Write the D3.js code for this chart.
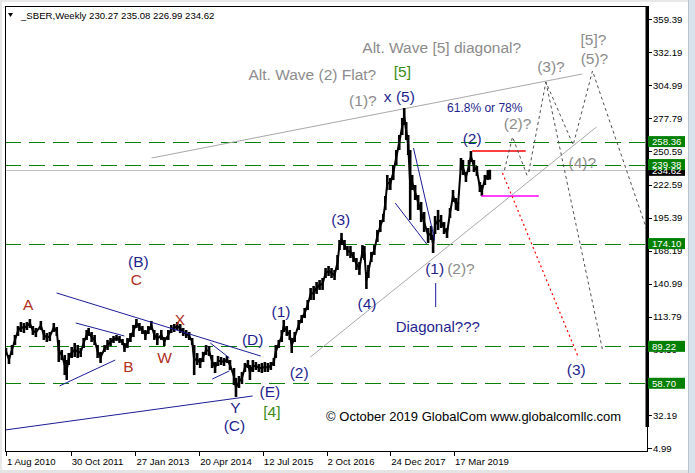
<!DOCTYPE html>
<html><head><meta charset="utf-8">
<script src="https://cdn.jsdelivr.net/npm/d3@7"></script>
<style>html,body{margin:0;padding:0;background:#fff;}svg{display:block;}</style>
</head><body>
<svg id="chart" width="695" height="473"></svg>
<script>
// ---------------- DATA ----------------
const symbolTitle = "_SBER,Weekly";
const ohlcHeader = [230.27, 235.08, 226.99, 234.62];
const startDate = "2010-08-01";
// weeks since start date
const weeks = [0,3,6,9,12,15,18,21,24,27, 30,35,38,41,44,48,51,53,56,59, 61,63,66,69,72,75,78,81,83,86,
 89,92,95,99,102,105,108,111,114,117, 119,122,125,128,131,134,137,140,143,146, 149,152,156,159,163,166,169,172,175,178,
 181,184,187,189,192,195,198,201,204,207, 210,213,216,219,222,225,229,231,234,237, 240,243,245,248,251,254,257,260,263,266,
 269,271,274,277,279,282,285,287,290,294, 297,300,303,306,309,312,315,318,321,324, 327,330,333,335,337,340,343,346,349,352,
 355,358,360,362,364,367,370,373,376,379, 381,383,386,389,392,395,398,400,402,404, 406,408,411,414,417,420,424,427,429,431,
 434,437,440,443,446,449,452,454,457,459, 462,465,467,470,473,476,478,481,484,486];
const highs = [87.9,82.1,90.3,98.6,106.0,109.3,108.5,109.3,111.8,106.0, 104.4,110.2,102.7,100.2,101.1,108.5,105.2,94.5,86.2,82.1,
 77.9,83.7,88.7,92.0,90.3,87.9,96.1,102.7,104.4,101.1, 98.6,90.3,84.6,90.3,94.5,96.1,97.8,98.6,97.8,95.3,
 92.0,96.1,100.2,106.9,111.8,108.5,106.0,102.7,106.0,110.2, 102.7,100.2,102.7,96.9,102.7,106.9,107.7,109.3,107.7,104.4,
 102.7,101.1,96.1,90.3,83.7,79.6,84.6,90.3,89.5,82.1, 76.3,81.3,80.4,79.6,81.3,77.9,71.3,63.1,64.7,68.0,
 75.5,77.9,73.8,77.9,76.3,74.6,75.5,76.3,75.5,76.3, 79.6,90.3,94.5,102.7,111.0,106.0,102.7,96.1,101.1,111.0,
 115.1,120.9,127.5,137.4,139.1,142.4,144.0,145.7,153.9,155.6, 153.9,152.3,164.7,177.1,182.9,177.1,172.1,172.1,167.2,162.2,
 158.9,172.9,172.1,150.6,156.4,167.2,172.9,185.3,193.6,198.6, 213.4,230.8,228.3,239.0,251.4,263.8,277.9,286.1,274.5,263.8,
 251.4,230.8,222.5,214.2,208.5,200.2,187.0,188.6,181.2,196.9, 201.9,197.7,191.9,187.0,203.5,218.4,211.8,208.5,244.8,243.2,
 233.2,243.2,250.6,243.2,238.2,225.0,222.5,230.8,234.9,235.08];
const lows = [82.1,74.6,82.1,90.3,97.8,101.1,100.2,102.7,104.4,98.6, 96.9,102.7,94.5,92.8,93.6,101.1,97.8,76.3,77.9,65.5,
 61.4,73.8,79.6,80.4,79.6,80.4,87.9,94.5,97.8,92.8, 90.3,79.6,75.5,84.6,86.2,89.5,92.0,93.6,92.0,90.3,
 84.6,87.9,92.8,96.9,104.4,101.9,99.4,94.5,99.4,102.7, 94.5,90.3,94.5,89.5,94.5,100.2,101.1,102.7,100.2,97.8,
 96.1,94.5,90.3,65.5,73.8,71.3,76.3,82.1,81.3,71.3, 67.2,73.0,73.8,73.0,75.5,69.7,57.3,47.4,54.8,58.1,
 68.0,71.3,61.4,68.0,69.7,68.0,67.2,68.0,68.0,69.7, 73.0,79.6,87.9,92.8,101.1,97.8,94.5,83.7,92.8,102.7,
 108.5,112.6,119.2,127.5,127.5,132.5,135.8,135.8,145.7,147.3, 145.7,144.0,152.3,168.8,172.9,168.8,163.9,162.2,158.9,152.3,
 148.2,162.2,160.6,136.6,145.7,158.9,164.7,175.4,183.7,191.9, 201.9,218.4,218.4,226.6,239.0,251.4,263.8,272.1,259.7,247.3,
 193.6,218.4,210.1,201.9,191.9,183.7,174.6,177.1,166.3,182.0, 185.3,187.0,182.0,178.7,195.2,208.5,201.9,201.0,234.9,230.8,
 225.0,233.2,241.5,233.2,229.9,216.7,213.4,222.5,226.6,226.99];

const xTickDates = ["2010-08-01","2011-10-30","2013-01-27","2014-04-20","2015-07-12","2016-10-02","2017-12-24","2019-03-17"];
const yTickValues = [359.39,332.19,304.99,277.79,250.59,222.59,195.39,168.19,140.99,113.79,86.59,32.19,4.99];
const levelPrices = [258.36,239.38,174.10,89.22,58.70];
const lastPrice = 234.62;

// annotation lines: [week1, price1, week2, price2]
const navyLines = [[-1,20.1,247.8,48.2],[50.8,133.3,255.9,81.2],[53.8,56.5,109.7,77.9],[70.1,108.5,118.8,97.8],
 [205.2,92.0,224.4,79.6],[207.2,62.2,224.4,68.9],[409.3,253.1,430.6,177.1],[391.0,207.6,422.5,173.8],[431.6,141.5,431.6,121.7]];
const grayLines = [[146.2,244.8,578.9,314.2],[305.7,80.4,593.1,270.4]];
const redLine = [468.2,250.6,522.0,250.6];
const magentaLine = [477.3,213.4,535.2,213.4];
const redDotted = [[498.7,232.4],[574.8,80.4]];
const grayDottedPaths = [
 [[500.7,234.9],[508.8,262.2],[524.0,229.1]],
 [[525.1,233.2],[542.3,307.6],[569.7,255.6],[589.1,316.7],[649.0,172.9]],
 [[542.3,307.6],[599.2,86.2]]
];
// labels: [text, week, price, kind]
const labels = [
 ["A",22.3,123.4,"brown"],["B",122.9,72.2,"brown"],["C",131.0,144.8,"brown"],["(B)",133.0,159.7,"navy"],
 ["W",159.4,80.4,"brown"],["X",174.7,111.8,"brown"],["Y",230.5,39.1,"navy"],["(C)",229.5,24.2,"navy"],
 ["(D)",247.8,94.5,"navy"],["(E)",265.1,52.3,"navy"],["[4]",267.1,35.8,"green"],
 ["(1)",276.2,118.4,"navy"],["(2)",294.5,68.0,"navy"],["(3)",336.2,193.6,"navy"],["(4)",362.6,124.2,"navy"],
 ["(1)?",358.5,291.9,"gray"],["x (5)",395.1,296.0,"navy"],["[5]",398.1,315.9,"green"],
 ["(2)",468.2,261.3,"navy"],["(2)?",513.9,272.9,"gray"],["(3)?",547.4,320.8,"gray"],
 ["[5]?",590.1,342.3,"gray"],["(5)?",591.1,327.4,"gray"],["(4)?",578.9,240.7,"gray"],
 ["(1)",430.6,153.9,"navy"],["(2)?",457.0,153.9,"gray"],["Diagonal???",433.7,106.0,"navy"],["(3)",572.8,69.7,"navy"]
];
const titles = [
 ["Alt. Wave (2) Flat?",307.7,313.4],["Alt. Wave [5] diagonal?",437.7,335.7]
];
const fibNote = ["61.8% or 78%",480.9,286.1];
const copyright = ["\u00A9 October 2019 GlobalCom www.globalcomllc.com",469.7,30.9];

// ---------------- DRAW ----------------
const svg = d3.select("#chart");
const P = {l:5, r:647, t:6, b:451};
const colors = {navy:"#1f1f8f", brown:"#b0301c", green:"#3c8c14", gray:"#8c8c8c"};
const FONT = "'Liberation Sans', Arial, sans-serif";

const t0 = d3.utcParse("%Y-%m-%d")(startDate);
const toDate = w => new Date(t0.getTime() + w*7*86400000);
const x = d3.scaleUtc().domain([d3.utcParse("%Y-%m-%d")(xTickDates[0]), d3.utcParse("%Y-%m-%d")(xTickDates[xTickDates.length-1])]).range([6,454]);
const y = d3.scaleLinear().domain([4.99,359.39]).range([448.3,19.3]);
const X = w => x(toDate(w));

// window frame
svg.append("rect").attr("x",0).attr("y",0).attr("width",695).attr("height",473).attr("fill","#fff");
svg.append("rect").attr("x",688).attr("y",0).attr("width",7).attr("height",473).attr("fill","#d9e3ee");
svg.append("line").attr("x1",688.5).attr("x2",688.5).attr("y1",0).attr("y2",473).attr("stroke","#b8c4d0");
svg.append("rect").attr("x",0).attr("y",0).attr("width",688).attr("height",2).attr("fill","#e8e8e8");
svg.append("rect").attr("x",0).attr("y",0).attr("width",2).attr("height",473).attr("fill","#e8e8e8");
svg.append("rect").attr("x",0).attr("y",470).attr("width",688).attr("height",3).attr("fill","#e4e4e4");

svg.append("defs").append("clipPath").attr("id","clip").append("rect")
  .attr("x",P.l).attr("y",P.t).attr("width",P.r-P.l).attr("height",P.b-P.t);
const g = svg.append("g").attr("clip-path","url(#clip)");

// level lines
g.selectAll(".lvl").data(levelPrices).join("line")
  .attr("x1",P.l).attr("x2",P.r).attr("y1",d=>Math.round(y(d))+0.5).attr("y2",d=>Math.round(y(d))+0.5)
  .attr("stroke","#0a800a").attr("stroke-width",1).attr("stroke-dasharray","16,8");
// bid line
g.append("line").attr("x1",P.l).attr("x2",P.r).attr("y1",Math.round(y(lastPrice))+0.5).attr("y2",Math.round(y(lastPrice))+0.5)
  .attr("stroke","#c0c0c0");

// gray trend lines
g.selectAll(".gl").data(grayLines).join("line")
  .attr("x1",d=>X(d[0])).attr("y1",d=>y(d[1])).attr("x2",d=>X(d[2])).attr("y2",d=>y(d[3]))
  .attr("stroke","#a8a8a8").attr("stroke-width",1);

// price bars
const idx = d3.range(weeks.length);
g.selectAll(".bar").data(idx).join("line")
  .attr("x1",i=>X(weeks[i])).attr("x2",i=>X(weeks[i]))
  .attr("y1",i=>y(highs[i])).attr("y2",i=>y(lows[i]))
  .attr("stroke","#000").attr("stroke-width",2.6);
g.append("path").datum(idx)
  .attr("d", d3.line().x(i=>X(weeks[i])).y(i=>y((highs[i]+lows[i])/2)))
  .attr("fill","none").attr("stroke","#000").attr("stroke-width",2);

// navy lines
g.selectAll(".nl").data(navyLines).join("line")
  .attr("x1",d=>X(d[0])).attr("y1",d=>y(d[1])).attr("x2",d=>X(d[2])).attr("y2",d=>y(d[3]))
  .attr("stroke","#1c1c96").attr("stroke-width",1);

// red and magenta
g.append("line").attr("x1",X(redLine[0])).attr("x2",X(redLine[2])).attr("y1",y(redLine[1])).attr("y2",y(redLine[3]))
  .attr("stroke","#ff0000").attr("stroke-width",1.3);
g.append("line").attr("x1",X(magentaLine[0])).attr("x2",X(magentaLine[2])).attr("y1",y(magentaLine[1])).attr("y2",y(magentaLine[3]))
  .attr("stroke","#ff00ff").attr("stroke-width",1.3);
g.append("path").datum(redDotted).attr("d",d3.line().x(d=>X(d[0])).y(d=>y(d[1])))
  .attr("fill","none").attr("stroke","#ff0000").attr("stroke-width",1.2).attr("stroke-dasharray","2,3");
g.selectAll(".gd").data(grayDottedPaths).join("path")
  .attr("d",d3.line().x(d=>X(d[0])).y(d=>y(d[1])))
  .attr("fill","none").attr("stroke","#505050").attr("stroke-width",1).attr("stroke-dasharray","3,3");

// labels
g.selectAll(".lab").data(labels).join("text")
  .attr("x",d=>X(d[1])).attr("y",d=>y(d[2]))
  .attr("text-anchor","middle").attr("dominant-baseline","central")
  .attr("font-family",FONT).attr("font-size",d=>d[0]==="Diagonal???"?15:15.5)
  .attr("fill",d=>colors[d[3]]).text(d=>d[0]);
g.selectAll(".ttl").data(titles).join("text")
  .attr("x",d=>X(d[1])).attr("y",d=>y(d[2]))
  .attr("text-anchor","middle").attr("dominant-baseline","central")
  .attr("font-family",FONT).attr("font-size",15.5).attr("fill",colors.gray).text(d=>d[0]);
g.append("text").attr("x",X(fibNote[1])).attr("y",y(fibNote[2]))
  .attr("text-anchor","middle").attr("dominant-baseline","central")
  .attr("font-family",FONT).attr("font-size",12).attr("fill",colors.navy).text(fibNote[0]);
g.append("text").attr("x",X(copyright[1])).attr("y",y(copyright[2]))
  .attr("text-anchor","middle").attr("dominant-baseline","central")
  .attr("font-family",FONT).attr("font-size",13).attr("fill","#000").text(copyright[0]);

// frame
svg.append("line").attr("x1",P.l+0.5).attr("x2",P.l+0.5).attr("y1",P.t).attr("y2",P.b+0.5).attr("stroke","#000");
svg.append("line").attr("x1",P.l).attr("x2",P.r).attr("y1",P.t+0.5).attr("y2",P.t+0.5).attr("stroke","#000");
svg.append("line").attr("x1",P.l).attr("x2",P.r+1).attr("y1",P.b+0.5).attr("y2",P.b+0.5).attr("stroke","#000");
svg.append("line").attr("x1",P.r+0.5).attr("x2",P.r+0.5).attr("y1",P.t).attr("y2",P.b+0.5).attr("stroke","#000");
svg.append("rect").attr("x",P.r-1.5).attr("y",P.t).attr("width",3.5).attr("height",427-P.t).attr("fill","#000");

// right axis
const yAxis = svg.append("g");
yAxis.selectAll("line").data(yTickValues).join("line")
  .attr("x1",P.r+1).attr("x2",P.r+5).attr("y1",d=>Math.round(y(d))+0.5).attr("y2",d=>Math.round(y(d))+0.5).attr("stroke","#000");
yAxis.selectAll("text").data(yTickValues).join("text")
  .attr("x",653).attr("y",d=>y(d)).attr("dominant-baseline","central")
  .attr("font-family",FONT).attr("font-size",9.6).attr("fill","#000").text(d=>d.toFixed(2));

// price boxes
const boxes = [{v:lastPrice,fill:"#000"}].concat(levelPrices.map(v=>({v,fill:"#008000"})));
const bg = svg.append("g");
bg.selectAll("rect").data(boxes).join("rect")
  .attr("x",648).attr("y",d=>y(d.v)-5.5).attr("width",37).attr("height",11).attr("fill",d=>d.fill);
bg.selectAll("text").data(boxes).join("text")
  .attr("x",652).attr("y",d=>y(d.v)).attr("dominant-baseline","central")
  .attr("font-family",FONT).attr("font-size",9.6).attr("fill","#fff").text(d=>d.v.toFixed(2));

// bottom axis
const xa = svg.append("g");
const tickDates = xTickDates.map(d3.utcParse("%Y-%m-%d"));
const fmt = d3.utcFormat("%-d %b %Y");
xa.selectAll("line").data(tickDates).join("line")
  .attr("x1",d=>Math.round(x(d))+0.5).attr("x2",d=>Math.round(x(d))+0.5).attr("y1",P.b).attr("y2",P.b+5).attr("stroke","#000");
xa.selectAll("text").data(tickDates).join("text")
  .attr("x",d=>x(d)+1).attr("y",461).attr("dominant-baseline","central")
  .attr("font-family",FONT).attr("font-size",9.6).attr("fill","#000").text(d=>fmt(d));

// header
svg.append("path").attr("d","M8,13 L13,13 L10.5,17 Z").attr("fill","#000");
svg.append("text").attr("x",21).attr("y",15.5).attr("dominant-baseline","central")
  .attr("font-family",FONT).attr("font-size",9.6).attr("fill","#000")
  .text(symbolTitle + "  " + ohlcHeader.map(v=>v.toFixed(2)).join(" "));
</script>
</body></html>
